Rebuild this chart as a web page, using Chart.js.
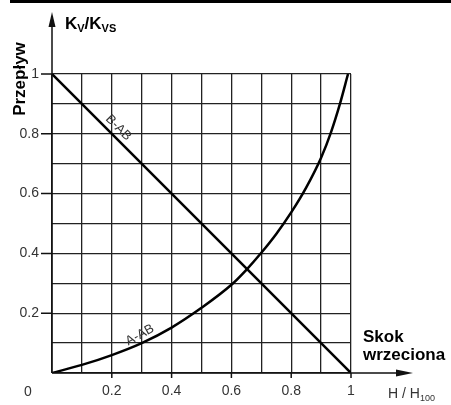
<!DOCTYPE html>
<html>
<head>
<meta charset="utf-8">
<script src="https://cdn.jsdelivr.net/npm/chart.js@4/dist/chart.umd.min.js"></script>
<style>
  body { margin: 0; background: #fff; }
  #c { display: block; }
</style>
</head>
<body>
<canvas id="c" width="451" height="405"></canvas>
<script>
// stroke H/H100 (x) vs Kv/Kvs (y)
const bAbX = [0, 1];
const bAbY = [1, 0];
const aAbX = [0, 0.1, 0.2, 0.3, 0.4, 0.5, 0.6, 0.65, 0.7, 0.75, 0.8, 0.85, 0.9, 0.933, 0.963, 0.99];
const aAbY = [0, 0.027, 0.06, 0.1, 0.152, 0.218, 0.295, 0.345, 0.402, 0.465, 0.537, 0.62, 0.72, 0.805, 0.9, 1];
const tickVals = [0.2, 0.4, 0.6, 0.8, 1];
const tickLabels = ['0.2', '0.4', '0.6', '0.8', '1'];
const curveNames = ['B-AB', 'A-AB'];

const toPts = (xs, ys) => xs.map((x, i) => ({ x: x, y: ys[i] }));
const labelFor = v => {
  const i = tickVals.findIndex(t => Math.abs(t - v) < 0.001);
  return i >= 0 ? tickLabels[i] : '';
};

const decor = {
  id: 'decor',
  afterDraw(chart) {
    const ctx = chart.ctx;
    const xs = chart.scales.x, ys = chart.scales.y;
    const x0 = xs.getPixelForValue(0), y0 = ys.getPixelForValue(0);
    ctx.save();
    // top rule
    ctx.fillStyle = '#000';
    ctx.fillRect(10, 0, 441, 3);
    // axes with arrows
    ctx.strokeStyle = '#111';
    ctx.lineWidth = 1.5;
    ctx.beginPath();
    ctx.moveTo(x0, y0);
    ctx.lineTo(x0, 22);
    ctx.moveTo(x0, y0);
    ctx.lineTo(400, y0);
    // tick dashes at labelled values
    tickVals.forEach(v => {
      const py = ys.getPixelForValue(v);
      ctx.moveTo(x0 - 11, py); ctx.lineTo(x0, py);
      const px = xs.getPixelForValue(v);
      ctx.moveTo(px, y0); ctx.lineTo(px, y0 + 5);
    });
    ctx.stroke();
    ctx.fillStyle = '#111';
    ctx.beginPath();
    ctx.moveTo(x0, 12); ctx.lineTo(x0 - 3.5, 27); ctx.lineTo(x0 + 3.5, 27); ctx.closePath();
    ctx.fill();
    ctx.beginPath();
    ctx.moveTo(413, y0); ctx.lineTo(396, y0 - 3.5); ctx.lineTo(396, y0 + 3.5); ctx.closePath();
    ctx.fill();

    // origin label
    ctx.fillStyle = '#333';
    ctx.font = '14px "Liberation Sans", Arial, sans-serif';
    ctx.textAlign = 'center';
    ctx.textBaseline = 'middle';
    ctx.fillText('0', 28, 392);

    // H / H100
    ctx.textAlign = 'left';
    ctx.textBaseline = 'alphabetic';
    ctx.fillText('H / H', 388, 398);
    let w = ctx.measureText('H / H').width;
    ctx.font = '9px "Liberation Sans", Arial, sans-serif';
    ctx.fillText('100', 388 + w, 401);

    // Kv/Kvs
    ctx.fillStyle = '#000';
    let px = 65;
    const parts = [['K', 17, 29], ['V', 11, 32], ['/K', 17, 29], ['VS', 11, 32]];
    parts.forEach(p => {
      ctx.font = 'bold ' + p[1] + 'px "Liberation Sans", Arial, sans-serif';
      ctx.fillText(p[0], px, p[2]);
      px += ctx.measureText(p[0]).width;
    });

    // Skok wrzeciona
    ctx.font = 'bold 17px "Liberation Sans", Arial, sans-serif';
    ctx.fillText('Skok', 363, 342);
    ctx.fillText('wrzeciona', 363, 360);

    // Przepływ
    ctx.save();
    ctx.translate(25, 79);
    ctx.rotate(-Math.PI / 2);
    ctx.textAlign = 'center';
    ctx.fillText('Przepływ', 0, 0);
    ctx.restore();

    // curve names
    ctx.fillStyle = '#333';
    ctx.font = '13px "Liberation Sans", Arial, sans-serif';
    ctx.textAlign = 'center';
    ctx.textBaseline = 'middle';
    const names = [[curveNames[0], 0.222, 0.82, Math.PI / 4], [curveNames[1], 0.294, 0.127, -0.5]];
    names.forEach(n => {
      ctx.save();
      ctx.translate(xs.getPixelForValue(n[1]), ys.getPixelForValue(n[2]));
      ctx.rotate(n[3]);
      ctx.fillText(n[0], 0, 0);
      ctx.restore();
    });
    ctx.restore();
  }
};

const gridOpts = {
  color: '#222',
  lineWidth: 1.3,
  tickColor: 'rgba(0,0,0,0)'
};

new Chart(document.getElementById('c'), {
  type: 'scatter',
  data: {
    datasets: [
      {
        label: curveNames[0],
        data: toPts(bAbX, bAbY),
        showLine: true,
        borderColor: '#000',
        borderWidth: 2.5,
        pointRadius: 0
      },
      {
        label: curveNames[1],
        data: toPts(aAbX, aAbY),
        showLine: true,
        borderColor: '#000',
        borderWidth: 2.5,
        pointRadius: 0,
        cubicInterpolationMode: 'monotone'
      }
    ]
  },
  options: {
    responsive: false,
    devicePixelRatio: 1,
    animation: false,
    layout: { padding: { left: 0, right: 100, top: 74, bottom: 0 } },
    plugins: { legend: { display: false }, tooltip: { enabled: false } },
    scales: {
      x: {
        type: 'linear',
        min: 0,
        max: 1,
        afterFit: s => { s.height = 32; },
        grid: Object.assign({ tickLength: 5 }, gridOpts),
        border: { display: false },
        ticks: {
          stepSize: 0.1,
          autoSkip: false,
          maxRotation: 0,
          padding: 5,
          color: '#333',
          font: { family: '"Liberation Sans", Arial, sans-serif', size: 14 },
          callback: v => labelFor(v)
        }
      },
      y: {
        type: 'linear',
        min: 0,
        max: 1,
        afterFit: s => { s.width = 52; },
        grid: Object.assign({ tickLength: 11 }, gridOpts),
        border: { display: false },
        ticks: {
          stepSize: 0.1,
          autoSkip: false,
          padding: 2,
          color: '#333',
          font: { family: '"Liberation Sans", Arial, sans-serif', size: 14 },
          callback: v => labelFor(v)
        }
      }
    }
  },
  plugins: [decor]
});
</script>
</body>
</html>
